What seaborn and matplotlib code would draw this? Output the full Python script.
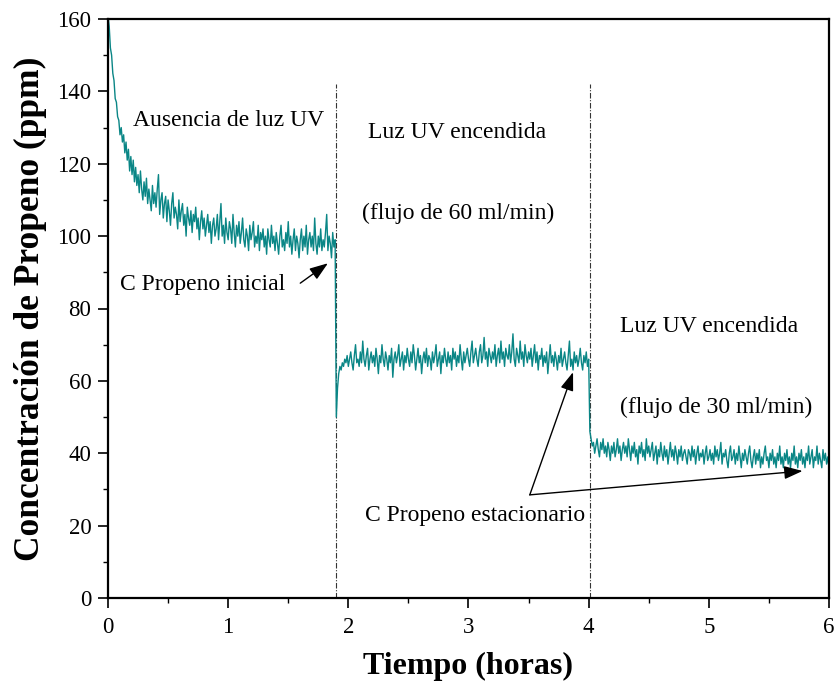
import numpy as np
import pandas as pd
import matplotlib
matplotlib.use("Agg")
import matplotlib.pyplot as plt
import seaborn as sns

# ---------------- data ----------------
step_hours = 0.01
baseline_time = [0.0]
baseline_value = [0.0]

seg1_start = 0.0   # no UV light
seg1_values = [161, 158, 152, 150, 145, 143, 138, 137, 133, 132,
               128, 130, 126, 128, 123, 126, 121, 124, 118, 122,
               117, 121, 115, 119, 114, 117, 112, 118, 113, 110,
               115, 111, 116, 109, 113, 110, 107, 114, 109, 112,
               108, 113, 117, 106, 110, 112, 105, 109, 111, 104,
               110, 107, 103, 109, 112, 105, 108, 106, 102, 110,
               104, 107, 109, 103, 106, 100, 108, 105, 103, 107,
               101, 106, 104, 108, 102, 105, 99, 104, 107, 102,
               105, 100, 103, 106, 101, 104, 98, 103, 105, 100,
               102, 106, 99, 104, 109, 100, 103, 98, 105, 101,
               99, 104, 102, 98, 106, 101, 97, 103, 100, 104,
               98, 101, 105, 99, 97, 102, 100, 96, 103, 99,
               101, 104, 97, 100, 98, 103, 96, 101, 99, 102,
               97, 100, 95, 102, 99, 97, 103, 98, 100, 96,
               101, 98, 95, 100, 103, 97, 99, 96, 101, 98,
               104, 97, 100, 95, 99, 102, 96, 100, 98, 94,
               99, 102, 96, 100, 97, 103, 95, 99, 101, 97,
               100, 96, 105, 98, 95, 100, 97, 102, 96, 99,
               97, 101, 106, 96, 100, 98, 94, 101, 97, 99]

seg2_start = 1.90  # UV on, 60 ml/min
seg2_values = [50, 58, 62, 64, 63, 65, 64, 66, 65, 67,
               64, 66, 68, 65, 63, 67, 70, 65, 66, 64,
               68, 65, 71, 66, 64, 67, 69, 63, 66, 68,
               65, 67, 64, 69, 66, 62, 67, 65, 70, 66,
               64, 68, 66, 63, 67, 65, 69, 61, 66, 68,
               65, 67, 70, 64, 66, 68, 63, 67, 65, 69,
               66, 64, 68, 65, 70, 67, 63, 66, 69, 65,
               67, 62, 66, 68, 65, 69, 64, 67, 66, 63,
               68, 65, 67, 70, 64, 66, 68, 62, 67, 65,
               69, 66, 64, 68, 65, 67, 63, 69, 66, 68,
               64, 67, 65, 70, 66, 63, 68, 65, 67, 69,
               66, 64, 68, 71, 65, 67, 69, 66, 64, 68,
               70, 65, 67, 72, 66, 68, 64, 69, 67, 65,
               68, 66, 70, 64, 67, 69, 65, 71, 66, 68,
               64, 69, 67, 66, 70, 65, 68, 73, 66, 64,
               69, 67, 65, 71, 66, 68, 64, 70, 67, 65,
               68, 66, 69, 64, 67, 70, 65, 68, 63, 67,
               66, 69, 64, 67, 65, 68, 62, 66, 70, 65,
               67, 64, 68, 66, 63, 67, 65, 69, 64, 66,
               68, 65, 63, 67, 71, 64, 66, 63, 68, 65,
               67, 64, 66, 69, 65, 63, 67, 65, 68, 64,
               66]

seg3_start = 4.01  # UV on, 30 ml/min
seg3_values = [46, 44, 42, 43, 40, 42, 44, 41, 39, 43,
               41, 44, 40, 42, 39, 43, 41, 38, 42, 40,
               43, 39, 41, 44, 40, 42, 38, 41, 43, 40,
               42, 39, 44, 41, 38, 42, 40, 43, 39, 41,
               37, 42, 40, 43, 39, 41, 38, 44, 40, 42,
               39, 41, 43, 38, 40, 42, 37, 41, 39, 43,
               40, 38, 42, 39, 41, 37, 40, 43, 39, 41,
               38, 42, 40, 37, 41, 39, 42, 38, 40, 41,
               39, 37, 41, 40, 38, 42, 39, 41, 37, 40,
               42, 38, 40, 39, 41, 37, 40, 42, 38, 39,
               41, 38, 40, 37, 42, 39, 41, 38, 40, 43,
               37, 40, 39, 41, 38, 36, 40, 42, 38, 39,
               41, 37, 40, 38, 42, 39, 36, 40, 38, 41,
               39, 37, 40, 42, 38, 36, 39, 41, 37, 40,
               38, 41, 36, 39, 37, 40, 42, 38, 39, 36,
               40, 38, 41, 37, 39, 36, 40, 38, 42, 37,
               39, 36, 40, 38, 41, 37, 39, 36, 40, 38,
               42, 37, 39, 36, 40, 38, 41, 37, 39, 36,
               40, 38, 42, 37, 39, 41, 36, 39, 38, 42,
               37, 40, 38, 36, 41, 38, 40, 37, 39, 36]

uv_switch_times = [1.90, 4.01]
x_ticks = [0, 1, 2, 3, 4, 5, 6]
y_ticks = [0, 20, 40, 60, 80, 100, 120, 140, 160]

# ---------------- build table ----------------
def seg_times(start, vals):
    return list(np.round(start + np.arange(len(vals)) * step_hours, 3))

times = (baseline_time + seg_times(seg1_start, seg1_values)
         + seg_times(seg2_start, seg2_values) + seg_times(seg3_start, seg3_values))
values = baseline_value + seg1_values + seg2_values + seg3_values
df = pd.DataFrame({"t": times, "c": values})

# ---------------- style ----------------
sns.set_style("ticks")
plt.rcParams["font.family"] = ["Liberation Serif", "DejaVu Serif"]
plt.rcParams["text.color"] = "black"
plt.rcParams["axes.labelcolor"] = "black"
plt.rcParams["xtick.color"] = "black"
plt.rcParams["ytick.color"] = "black"

fig = plt.figure(figsize=(8.37, 6.86), dpi=100)
ax = fig.add_axes([108 / 837, 1 - 598 / 686, (829 - 108) / 837, (598 - 19) / 686])

sns.lineplot(data=df, x="t", y="c", ax=ax, color="#0a8686", lw=1.0,
             estimator=None, sort=False)

for xs in uv_switch_times:
    ax.plot([xs, xs], [0, 142], color="#333333", lw=0.8,
            dashes=(5, 1.5, 1, 1.5), zorder=1)

ax.set_xlim(0, 6)
ax.set_ylim(0, 160)
ax.set_xticks(x_ticks)
ax.set_yticks(y_ticks)
ax.set_xticks(np.arange(0.5, 6, 1.0), minor=True)
ax.set_yticks(np.arange(10, 160, 20), minor=True)
ax.tick_params(axis="both", which="major", length=7, width=1.2, labelsize=16.5,
               direction="out", colors="black", pad=7)
ax.tick_params(axis="y", which="major", pad=5)
ax.tick_params(axis="both", which="minor", length=3.8, width=1.0, direction="out")
for s in ax.spines.values():
    s.set_visible(True)
    s.set_linewidth(1.6)
    s.set_color("black")

ax.set_xlabel("Tiempo (horas)", fontsize=23, fontweight="bold", labelpad=10,
              color="black")
ax.set_ylabel("Concentración de Propeno (ppm)", fontsize=25.5, fontweight="bold",
              labelpad=7, color="black")

fs = 17
ax.text(0.208, 132, "Ausencia de luz UV", fontsize=fs, ha="left", va="center")
ax.text(2.163, 128.7, "Luz UV encendida", fontsize=fs, ha="left", va="center")
ax.text(2.113, 106.4, "(flujo de 60 ml/min)", fontsize=fs, ha="left", va="center")
ax.text(4.26, 74.9, "Luz UV encendida", fontsize=fs, ha="left", va="center")
ax.text(4.26, 52.8, "(flujo de 30 ml/min)", fontsize=fs, ha="left", va="center")

arrow = dict(arrowstyle="-|>,head_length=0.7,head_width=0.25", color="black",
             lw=1.0, mutation_scale=16, shrinkA=0, shrinkB=0)
ax.text(0.10, 86.7, "C Propeno inicial", fontsize=fs, ha="left", va="center")
ax.annotate("", xy=(1.83, 92.5), xytext=(1.60, 87.0), arrowprops=arrow)

ax.text(2.14, 22.9, "C Propeno estacionario", fontsize=fs, ha="left", va="center")
ax.annotate("", xy=(3.87, 62.4), xytext=(3.51, 28.5), arrowprops=arrow)
ax.annotate("", xy=(5.78, 35.1), xytext=(3.51, 28.5), arrowprops=arrow)

fig.savefig("out.png", dpi=100)
